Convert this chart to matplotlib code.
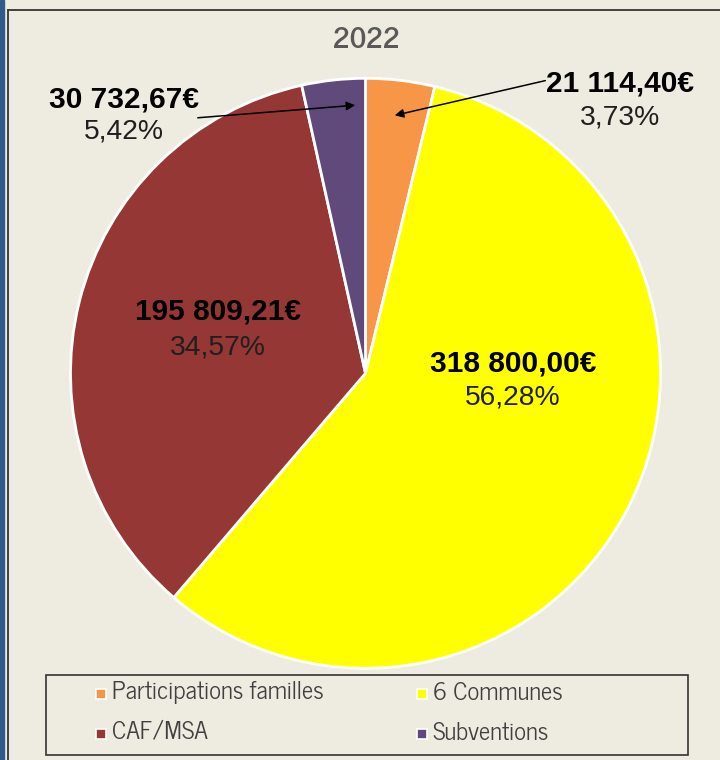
import matplotlib
matplotlib.use("Agg")
import matplotlib.pyplot as plt
from matplotlib.patches import Rectangle
from matplotlib.lines import Line2D

# ---- data ----
title = "2022"
categories = ["Participations familles", "6 Communes", "CAF/MSA", "Subventions"]
# amounts and percentages as printed on the chart
value_labels = ["21 114,40€", "318 800,00€", "195 809,21€", "30 732,67€"]
pct_labels = ["3,73%", "56,28%", "34,57%", "5,42%"]
# slice sizes as drawn in the picture (share of the circle, %)
slice_shares = [3.78, 57.48, 35.27, 3.47]
colors = ["#F79646", "#FFFF00", "#953735", "#604A7B"]

W, H = 720, 760
BG = "#EEECE1"
gothic = ["News Cycle", "PT Sans Narrow", "DejaVu Sans"]
arial = ["Liberation Sans", "DejaVu Sans"]

fig = plt.figure(figsize=(W / 100, H / 100), dpi=100, facecolor=BG)
ax = fig.add_axes([0, 0, 1, 1])

def py(y):
    return H - y

cx, cy, r = 365.5, py(373.3), 295
wedges, _ = ax.pie(slice_shares, colors=colors, startangle=90, counterclock=False,
                   center=(cx, cy), radius=r, frame=True,
                   wedgeprops=dict(edgecolor="white", linewidth=2))
ax.set_xlim(0, W)
ax.set_ylim(0, H)
ax.set_aspect("equal")
ax.axis("off")

# frame
ax.add_patch(Rectangle((0, 0), 3.5, H, color="#2E5A8C", zorder=0))
ax.add_line(Line2D([7.5, 7.5], [0, py(9.5)], color="#333333", lw=1.3))
ax.add_line(Line2D([7.5, W], [py(9.5), py(9.5)], color="#333333", lw=1.3))

ax.text(366, py(40), title, ha="center", va="center", fontsize=21,
        fontweight="bold", color="#595959", family=gothic)

# label positions (pixel): x, value y, percent y
label_pos = [(620, 84, 118), (513, 364, 398), (218, 312, 347), (124, 100, 132)]
for (x, yv, yp), vl, pl in zip(label_pos, value_labels, pct_labels):
    ax.text(x, py(yv), vl, ha="center", va="center", fontsize=21.5,
            fontweight="bold", color="black", family=arial)
    ax.text(x, py(yp), pl, ha="center", va="center", fontsize=20.3,
            color="#1f1f1f", family=arial)

# leader arrows
ax.annotate("", xy=(392, py(116)), xytext=(548, py(80)),
            arrowprops=dict(arrowstyle="-|>", color="black", lw=1.1, mutation_scale=13))
ax.annotate("", xy=(358, py(105)), xytext=(195, py(118)),
            arrowprops=dict(arrowstyle="-|>", color="black", lw=1.1, mutation_scale=13))

# legend box
ax.add_patch(Rectangle((46, py(755)), 642, 80, facecolor="none",
                       edgecolor="#333333", lw=1.2, zorder=3))
col_x = [101, 422]
row_y = [694, 734]
for i, (cat, col) in enumerate(zip(categories, colors)):
    x = col_x[i % 2]
    y = row_y[i // 2]
    ax.add_patch(Rectangle((x - 5, py(y) - 5), 10, 10, facecolor=col,
                           edgecolor="white", lw=1.2, zorder=4))
    ax.text(x + 11, py(y) + 1, cat, ha="left", va="center", fontsize=17.8,
            color="#404040", family=gothic)

fig.savefig("out.png", dpi=100, facecolor=BG)
